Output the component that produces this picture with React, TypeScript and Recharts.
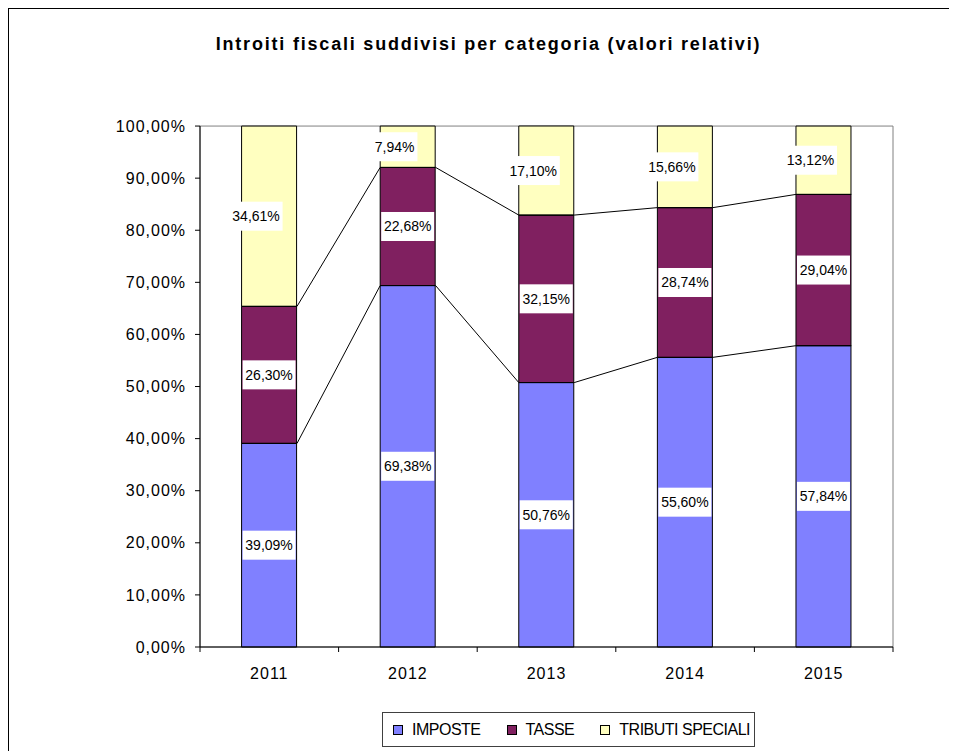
import React from "react";
import {
  ComposedChart,
  Bar,
  Scatter,
  XAxis,
  YAxis,
  LabelList,
  ReferenceArea,
} from "recharts";

const years = ["2011", "2012", "2013", "2014", "2015"];
const imposte = [39.09, 69.38, 50.76, 55.6, 57.84];
const tasse = [26.3, 22.68, 32.15, 28.74, 29.04];
const tributi = [34.61, 7.94, 17.1, 15.66, 13.12];
const yTicks = [0, 10, 20, 30, 40, 50, 60, 70, 80, 90, 100];
const xTicks = [-0.5, 0, 0.5, 1, 1.5, 2, 2.5, 3, 3.5, 4, 4.5];

const series = [
  { key: "imposte", name: "IMPOSTE", color: "#8080FF" },
  { key: "tasse", name: "TASSE", color: "#802060" },
  { key: "tributi", name: "TRIBUTI SPECIALI", color: "#FFFFC0" },
];

const data = years.map((year, i) => ({
  year,
  imposte: imposte[i],
  tasse: tasse[i],
  tributi: tributi[i],
}));

// series lines go from the right edge of one bar to the left edge of the next
const halfBar = 0.2;
const lineImposte = years.flatMap((_, i) => [
  { x: i - halfBar, y: imposte[i] },
  { x: i + halfBar, y: imposte[i] },
]);
const lineTasse = years.flatMap((_, i) => [
  { x: i - halfBar, y: imposte[i] + tasse[i] },
  { x: i + halfBar, y: imposte[i] + tasse[i] },
]);

const FONT = "'Liberation Sans', Arial, sans-serif";
const pct = (v: number) => v.toFixed(2).replace(".", ",") + "%";

function BoxLabel(props: any) {
  const vb = props.viewBox ?? props;
  const { x, y, width, height } = vb;
  const shift = props.shift ?? 0;
  const text = pct(Number(props.value));
  const cx = x + width / 2 + shift;
  const cy = y + height / 2;
  const w = text.length * 7.5 + 8;
  return (
    <g>
      <rect x={cx - w / 2} y={cy - 14.5} width={w} height={29} fill="#fff" />
      <text
        x={cx}
        y={cy + 5}
        textAnchor="middle"
        fontSize={14}
        fontFamily={FONT}
        fill="#000"
      >
        {text}
      </text>
    </g>
  );
}

function YearTick({ x, y, payload }: any) {
  const v = payload.value;
  if (Number.isInteger(v)) {
    return (
      <text
        x={x}
        y={y + 32}
        textAnchor="middle"
        fontSize={16}
        letterSpacing={1}
        fontFamily={FONT}
        fill="#000"
      >
        {years[v]}
      </text>
    );
  }
  return <line x1={x} x2={x} y1={y} y2={y + 5} stroke="#000" />;
}

export default function App() {
  return (
    <div style={{ position: "relative", width: 949, height: 743, fontFamily: FONT }}>
      <style>{"body{overflow:hidden}"}</style>
      <div
        style={{
          position: "absolute",
          left: 0,
          top: 0,
          width: 949,
          height: 743,
          borderLeft: "1px solid #000",
          borderTop: "1px solid #000",
          boxSizing: "border-box",
        }}
      />
      <div
        style={{
          position: "absolute",
          left: 6,
          top: 27,
          width: 949,
          textAlign: "center",
          fontSize: 18,
          lineHeight: "18px",
          fontWeight: "bold",
          letterSpacing: 1.8,
          color: "#000",
        }}
      >
        Introiti fiscali suddivisi per categoria (valori relativi)
      </div>
      <div style={{ position: "absolute", left: 0, top: 0 }}>
        <ComposedChart
          width={949}
          height={743}
          data={data}
          margin={{ top: 118, right: 64, left: 0, bottom: 64 }}
          barCategoryGap="30%"
          style={{ fontFamily: FONT }}
        >
          <ReferenceArea
            xAxisId="pos"
            x1={-0.5}
            x2={4.5}
            y1={0}
            y2={100}
            fill="none"
            stroke="#808080"
            ifOverflow="visible"
          />
          <XAxis xAxisId="cat" dataKey="year" hide height={0} />
          <XAxis
            xAxisId="pos"
            dataKey="x"
            type="number"
            domain={[-0.5, 4.5]}
            ticks={xTicks}
            interval={0}
            allowDataOverflow
            height={40}
            tickLine={false}
            tickSize={0}
            tickMargin={0}
            axisLine={{ stroke: "#000" }}
            tick={<YearTick />}
          />
          <YAxis
            domain={[0, 100]}
            ticks={yTicks}
            interval={0}
            width={192}
            tickSize={5}
            tickMargin={9}
            tickFormatter={pct}
            axisLine={{ stroke: "#000" }}
            tickLine={{ stroke: "#000" }}
            tick={{ fill: "#000", fontSize: 16, letterSpacing: 1, fontFamily: FONT }}
          />
          {series.map((s) => (
            <Bar
              key={s.key}
              xAxisId="cat"
              dataKey={s.key}
              name={s.name}
              stackId="a"
              fill={s.color}
              stroke="#000"
              strokeWidth={1}
              isAnimationActive={false}
            >
              <LabelList
                dataKey={s.key}
                content={(p: any) => (
                  <BoxLabel {...p} shift={s.key === "tributi" ? -13 : 0} />
                )}
              />
            </Bar>
          ))}
          {[lineImposte, lineTasse].map((pts, i) => (
            <Scatter
              key={i}
              xAxisId="pos"
              data={pts}
              dataKey="y"
              line={{ stroke: "#000", strokeWidth: 1 }}
              lineType="joint"
              shape={() => <g />}
              isAnimationActive={false}
            />
          ))}
        </ComposedChart>
      </div>
      <div
        style={{
          position: "absolute",
          left: 374,
          top: 704,
          width: 373,
          height: 35,
          border: "1px solid #404040",
          boxSizing: "border-box",
          display: "flex",
          alignItems: "center",
          paddingLeft: 10,
          fontSize: 16,
          letterSpacing: -0.5,
          whiteSpace: "nowrap",
          color: "#000",
          background: "#fff",
        }}
      >
        {series.map((s) => (
          <div key={s.key} style={{ display: "flex", alignItems: "center", marginRight: 26 }}>
            <span
              style={{
                display: "inline-block",
                width: 8,
                height: 8,
                border: "1px solid #000",
                background: s.color,
                marginRight: 9,
              }}
            />
            <span>{s.name}</span>
          </div>
        ))}
      </div>
    </div>
  );
}
